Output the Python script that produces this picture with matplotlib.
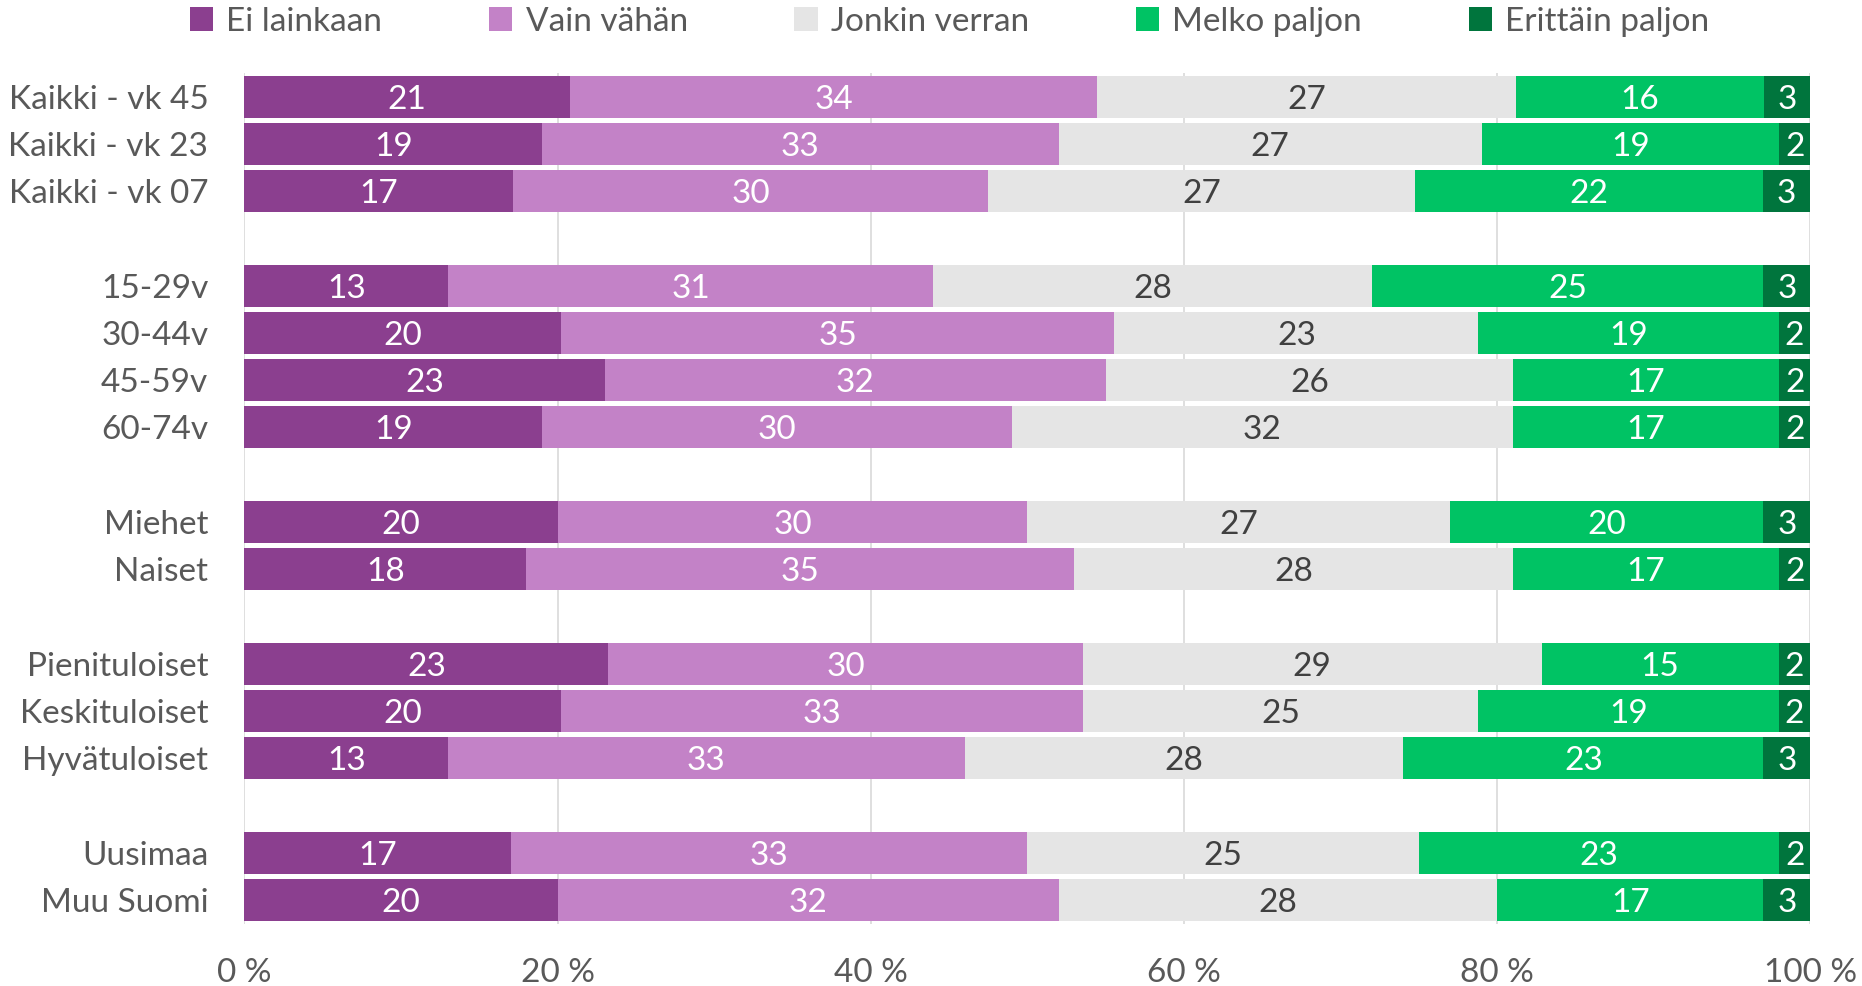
import numpy as np
import matplotlib.pyplot as plt
from matplotlib.patches import Patch

plt.rcParams['font.family'] = ['Lato', 'DejaVu Sans']

categories = ['Kaikki - vk 45', 'Kaikki - vk 23', 'Kaikki - vk 07',
              '15-29v', '30-44v', '45-59v', '60-74v',
              'Miehet', 'Naiset',
              'Pienituloiset', 'Keskituloiset', 'Hyvätuloiset',
              'Uusimaa', 'Muu Suomi']
group_sizes = [3, 4, 2, 3, 2]

series_names = ['Ei lainkaan', 'Vain vähän', 'Jonkin verran', 'Melko paljon', 'Erittäin paljon']
ei_lainkaan = [21, 19, 17, 13, 20, 23, 19, 20, 18, 23, 20, 13, 17, 20]
vain_vahan = [34, 33, 30, 31, 35, 32, 30, 30, 35, 30, 33, 33, 33, 32]
jonkin_verran = [27, 27, 27, 28, 23, 26, 32, 27, 28, 29, 25, 28, 25, 28]
melko_paljon = [16, 19, 22, 25, 19, 17, 17, 20, 17, 15, 19, 23, 23, 17]
erittain_paljon = [3, 2, 3, 3, 2, 2, 2, 3, 2, 2, 2, 3, 2, 3]

colors = ['#8B3F8F', '#C382C7', '#E5E5E5', '#00C364', '#00753D']
label_colors = ['white', 'white', '#404040', 'white', 'white']

values = np.array([ei_lainkaan, vain_vahan, jonkin_verran, melko_paljon, erittain_paljon], dtype=float)
shares = values / values.sum(axis=0) * 100  # 100 % pinottu

# rivipaikat: ryhmien väliin yksi tyhjä rivi
ypos = []
row = 0
for g in group_sizes:
    ypos.extend(range(row, row + g))
    row += g + 1
ypos = np.array(ypos)
nrows = row - 1

fig = plt.figure(figsize=(18.62, 9.86), dpi=100)
ax = fig.add_axes([0.1313, 0.0633, 0.841, 0.8627])

fs = 24
left = np.zeros(len(categories))
for i in range(5):
    ax.barh(ypos, shares[i], left=left, height=0.89, color=colors[i], label=series_names[i], zorder=2)
    for y, l, w, v in zip(ypos, left, shares[i], values[i]):
        ax.text(l + w / 2, y, '%d' % v, ha='center', va='center_baseline', fontsize=fs,
                color=label_colors[i], zorder=3)
    left += shares[i]

ax.set_xlim(0, 100)
ax.set_ylim(nrows - 0.5, -0.5)
ax.set_xticks([0, 20, 40, 60, 80, 100])
ax.set_xticklabels(['%d %%' % t for t in [0, 20, 40, 60, 80, 100]])
ax.set_yticks(ypos)
ax.set_yticklabels(categories)
ax.tick_params(axis='both', length=0, labelsize=fs, colors='#595959')
ax.tick_params(axis='y', pad=26)
ax.tick_params(axis='x', pad=25)
ax.grid(axis='x', color='#D9D9D9', linewidth=1.2, zorder=0)
ax.set_axisbelow(True)
for s in ax.spines.values():
    s.set_visible(False)

handles = [Patch(facecolor=c, edgecolor='none') for c in colors]
fig.legend(handles, series_names, loc='center', bbox_to_anchor=(0.51, 0.978), ncol=5,
           frameon=False, fontsize=fs, labelcolor='#595959', handlelength=0.7, handleheight=0.7,
           handletextpad=0.4, columnspacing=3.2)

fig.savefig('out.png')
